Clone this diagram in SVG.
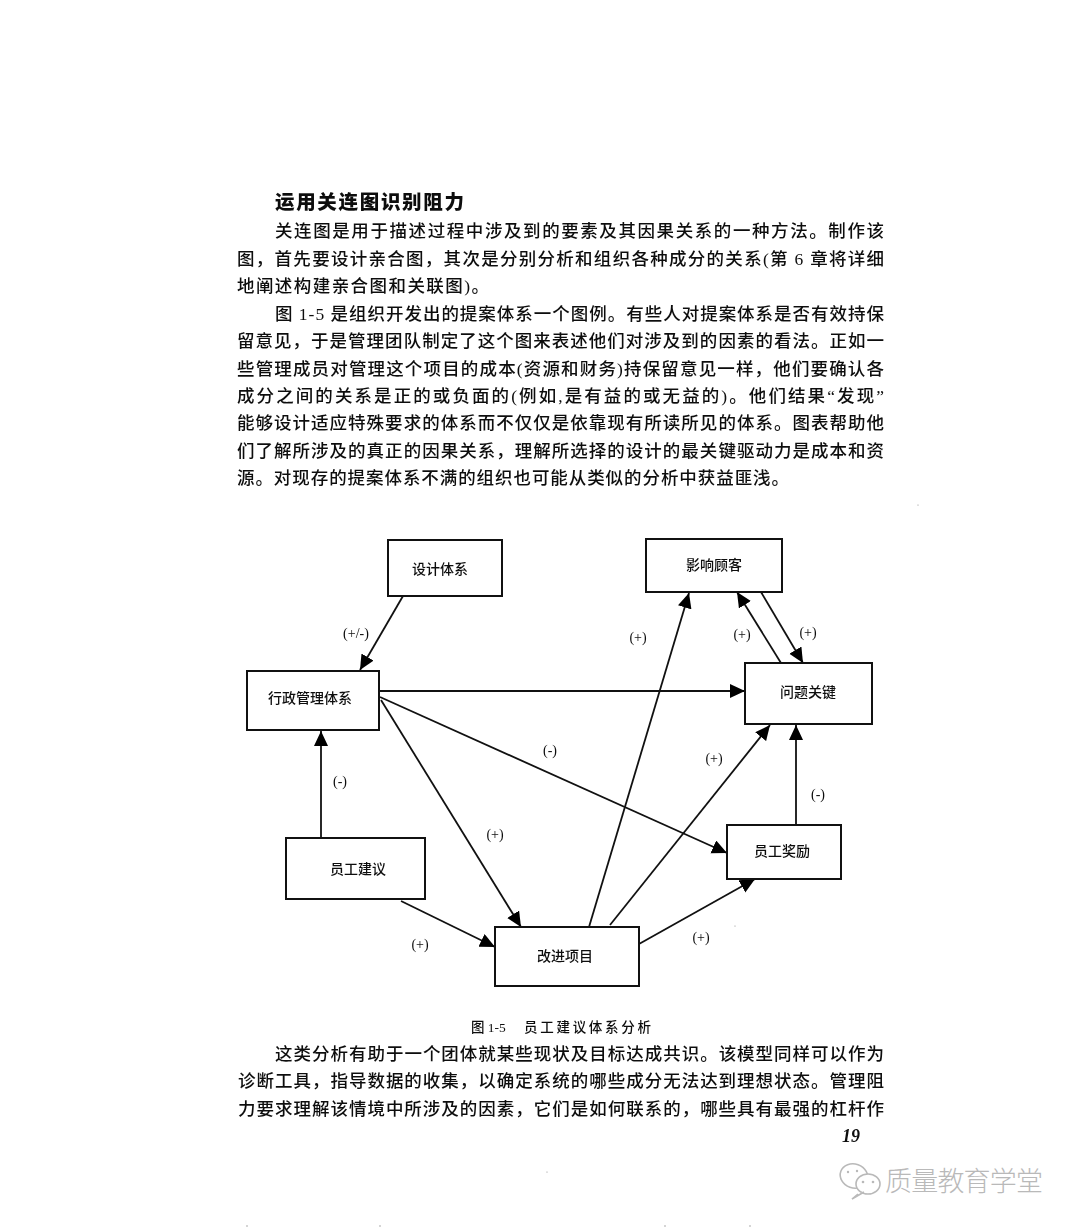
<svg xmlns="http://www.w3.org/2000/svg" width="1080" height="1229" viewBox="0 0 1080 1229" xml:lang="zh-Hans">
<style>
text{font-family:"Liberation Serif","Noto Sans CJK SC",serif;fill:#111}
.b{font-size:17.5px;font-weight:500}
.h{font-size:19.5px;font-weight:900;font-family:"Noto Sans CJK SC",sans-serif}
.n{font-size:14px;text-anchor:middle;font-weight:500}
.l{font-size:14px;text-anchor:middle;font-weight:500}
.cap{font-size:13.5px;font-weight:500}
.box{fill:#fff;stroke:#111;stroke-width:2}
.c{stroke:#111;stroke-width:1.8;fill:none;marker-end:url(#a)}
.wm{font-size:27px;font-family:"Noto Sans CJK SC",sans-serif;font-weight:300;fill:#b9b9b9}
.ic{fill:#fff;stroke:#b9b9b9;stroke-width:1.6}
.eye{fill:#b9b9b9}
.sp{fill:#8a8a8a}
</style>
<defs>
<marker id="a" markerUnits="userSpaceOnUse" markerWidth="17" markerHeight="15" refX="15" refY="7" orient="auto"><path d="M0 0L15 7L0 14Z" fill="#000"/></marker>
<filter id="soft" x="-2%" y="-2%" width="104%" height="104%"><feGaussianBlur stdDeviation="0.3"/></filter>
</defs>
<rect width="1080" height="1229" fill="#fff"/>
<g id="page-text" filter="url(#soft)">
<text class="h" x="275" y="209" textLength="189">运用关连图识别阻力</text>
<text class="b" x="275" y="237" textLength="609">关连图是用于描述过程中涉及到的要素及其因果关系的一种方法。制作该</text>
<text class="b" x="237" y="265" textLength="647">图，首先要设计亲合图，其次是分别分析和组织各种成分的关系(第 6 章将详细</text>
<text class="b" x="237" y="292" textLength="252">地阐述构建亲合图和关联图)。</text>
<text class="b" x="275" y="320" textLength="609">图 1-5 是组织开发出的提案体系一个图例。有些人对提案体系是否有效持保</text>
<text class="b" x="237" y="347" textLength="647">留意见，于是管理团队制定了这个图来表述他们对涉及到的因素的看法。正如一</text>
<text class="b" x="237" y="375" textLength="647">些管理成员对管理这个项目的成本(资源和财务)持保留意见一样，他们要确认各</text>
<text class="b" x="237" y="402" textLength="647">成分之间的关系是正的或负面的(例如,是有益的或无益的)。他们结果“发现”</text>
<text class="b" x="237" y="429" textLength="647">能够设计适应特殊要求的体系而不仅仅是依靠现有所读所见的体系。图表帮助他</text>
<text class="b" x="237" y="457" textLength="647">们了解所涉及的真正的因果关系，理解所选择的设计的最关键驱动力是成本和资</text>
<text class="b" x="237" y="484" textLength="552">源。对现存的提案体系不满的组织也可能从类似的分析中获益匪浅。</text>
<text class="cap" x="471" y="1032">图 1-5</text>
<text class="cap" x="524" y="1032" textLength="127">员工建议体系分析</text>
<text class="b" x="275" y="1060" textLength="609">这类分析有助于一个团体就某些现状及目标达成共识。该模型同样可以作为</text>
<text class="b" x="238" y="1087" textLength="646">诊断工具，指导数据的收集，以确定系统的哪些成分无法达到理想状态。管理阻</text>
<text class="b" x="238" y="1115" textLength="646">力要求理解该情境中所涉及的因素，它们是如何联系的，哪些具有最强的杠杆作</text>
<text x="842" y="1142" style="font-size:18px;font-style:italic;font-weight:700">19</text>
</g>
<g id="connectors">
<line class="c" x1="403" y1="596" x2="360" y2="670"/>
<line class="c" x1="380" y1="691" x2="745" y2="691"/>
<line class="c" x1="380" y1="697" x2="727" y2="853"/>
<line class="c" x1="381" y1="700" x2="521" y2="927"/>
<line class="c" x1="321" y1="838" x2="321" y2="731"/>
<line class="c" x1="401" y1="901" x2="495" y2="947"/>
<line class="c" x1="589" y1="927" x2="689" y2="593"/>
<line class="c" x1="610" y1="925" x2="770" y2="725"/>
<line class="c" x1="639" y1="944" x2="755" y2="879"/>
<line class="c" x1="796" y1="825" x2="796" y2="725"/>
<line class="c" x1="781" y1="663" x2="737" y2="592"/>
<line class="c" x1="761" y1="592" x2="803" y2="663"/>
</g>
<g id="design-system"><rect class="box" x="388" y="540" width="114" height="56"/><text class="n" x="440" y="574" filter="url(#soft)">设计体系</text></g>
<g id="customer"><rect class="box" x="646" y="539" width="136" height="53"/><text class="n" x="714" y="570" filter="url(#soft)">影响顾客</text></g>
<g id="admin"><rect class="box" x="247" y="671" width="132" height="59"/><text class="n" x="310" y="703" filter="url(#soft)">行政管理体系</text></g>
<g id="key-issue"><rect class="box" x="745" y="663" width="127" height="61"/><text class="n" x="808" y="697" filter="url(#soft)">问题关键</text></g>
<g id="suggestion"><rect class="box" x="286" y="838" width="139" height="61"/><text class="n" x="358" y="874" filter="url(#soft)">员工建议</text></g>
<g id="reward"><rect class="box" x="727" y="825" width="114" height="54"/><text class="n" x="782" y="856" filter="url(#soft)">员工奖励</text></g>
<g id="project"><rect class="box" x="495" y="927" width="144" height="59"/><text class="n" x="565" y="961" filter="url(#soft)">改进项目</text></g>
<g id="edge-labels" filter="url(#soft)">
<text class="l" x="356" y="638">(+/-)</text>
<text class="l" x="638" y="642">(+)</text>
<text class="l" x="742" y="639">(+)</text>
<text class="l" x="808" y="637">(+)</text>
<text class="l" x="550" y="755">(-)</text>
<text class="l" x="714" y="763">(+)</text>
<text class="l" x="340" y="786">(-)</text>
<text class="l" x="818" y="799">(-)</text>
<text class="l" x="495" y="839">(+)</text>
<text class="l" x="420" y="949">(+)</text>
<text class="l" x="701" y="942">(+)</text>
</g>
<g id="watermark">
<ellipse class="ic" cx="854" cy="1176" rx="14" ry="12" transform="rotate(20 854 1176)"/>
<ellipse class="ic" cx="868" cy="1184" rx="12" ry="10"/>
<path class="ic" d="M858 1194L852 1199L864 1192" />
<circle class="eye" cx="863" cy="1182" r="1.3"/><circle class="eye" cx="873" cy="1182" r="1.3"/>
<circle class="eye" cx="848" cy="1172" r="1.2"/><circle class="eye" cx="857" cy="1171" r="1.2"/>
<text class="wm" x="885" y="1191" textLength="158">质量教育学堂</text>
</g>
<g id="specks">
<circle class="sp" cx="247" cy="1226" r="0.7"/><circle class="sp" cx="380" cy="1226" r="0.7"/><circle class="sp" cx="665" cy="1226" r="0.7"/><circle class="sp" cx="750" cy="1226" r="0.7"/><circle class="sp" cx="547" cy="1172" r="0.6"/><circle class="sp" cx="735" cy="926" r="0.6"/><circle class="sp" cx="918" cy="505" r="0.6"/>
</g>
</svg>
